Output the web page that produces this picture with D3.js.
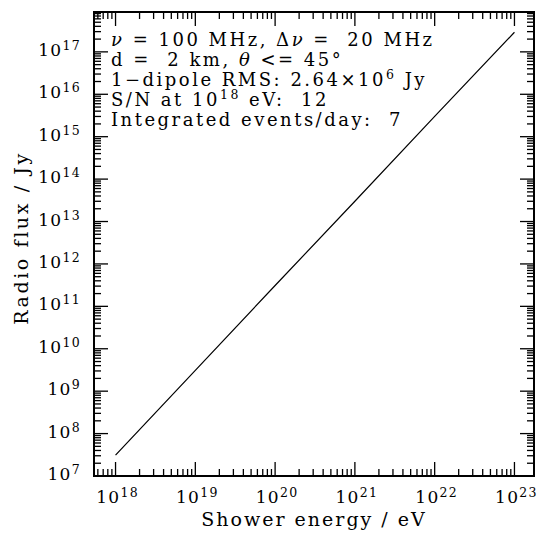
<!DOCTYPE html>
<html>
<head>
<meta charset="utf-8">
<script src="https://cdn.jsdelivr.net/npm/d3@7"></script>
<style>
  body { margin: 0; background: #fff; }
  svg { display: block; }
  text { font-family: "DejaVu Serif", serif; fill: #000; white-space: pre; }
</style>
</head>
<body>
<svg width="539" height="534"></svg>
<script>
// chart.js

// data
const energyDecades = [18, 19, 20, 21, 22, 23];
const fluxDecades = [7, 8, 9, 10, 11, 12, 13, 14, 15, 16, 17];
const energy = [1e18, 1e19, 1e20, 1e21, 1e22, 1e23];
const flux = [3.1e7, 3.1e9, 3.1e11, 3.0e13, 3.0e15, 2.9e17];

// annotation lines: [text, kind]  kind: "" normal, "i" italic, "s" superscript
const notes = [
    [["ν", "i"], [" = 100 MHz, Δ", ""], ["ν", "i"], [" =  20 MHz", ""]],
    [["d =  2 km, ", ""], ["θ", "i"], [" <= 45°", ""]],
    [["1−dipole RMS: 2.64×10", ""], ["6", "s"], [" Jy", ""]],
    [["S/N at 10", ""], ["18", "s"], [" eV:  12", ""]],
    [["Integrated events/day:  7", ""]]
];

const xTitle = "Shower energy / eV";
const yTitle = "Radio flux / Jy";

const svg = d3.select("svg");
const frameL = 94, frameR = 534, frameT = 12, frameB = 476;

const x = d3.scaleLog().domain([Math.pow(10, 17.73), Math.pow(10, 23.245)]).range([frameL, frameR]);
const y = d3.scaleLog().domain([1e7, Math.pow(10, 17.94)]).range([frameB, frameT]);

function minors(scale) {
    const [a, b] = scale.domain();
    const out = [];
    for (let d = Math.floor(Math.log10(a)); d <= Math.ceil(Math.log10(b)); d++) {
        for (let k = 2; k <= 9; k++) {
            const v = k * Math.pow(10, d);
            if (v > a && v < b) out.push(v);
        }
    }
    return out;
}

const xTicks = energyDecades.map(d => ({ v: Math.pow(10, d), len: 14 }))
    .concat(minors(x).map(v => ({ v: v, len: 7 })));
const yTicks = fluxDecades.map(d => ({ v: Math.pow(10, d), len: 14 }))
    .concat(minors(y).map(v => ({ v: v, len: 7 })));

// ticks as thin filled bars, inward on all four sides
const tw = 1.3;
const tickG = svg.append("g").attr("fill", "#000");
tickG.selectAll("rect.xb")
    .data(xTicks)
    .enter().append("rect")
    .attr("class", "xb")
    .attr("x", d => x(d.v) - tw / 2).attr("y", d => frameB - d.len)
    .attr("width", tw).attr("height", d => d.len);
tickG.selectAll("rect.xt")
    .data(xTicks)
    .enter().append("rect")
    .attr("class", "xt")
    .attr("x", d => x(d.v) - tw / 2).attr("y", frameT)
    .attr("width", tw).attr("height", d => d.len);
tickG.selectAll("rect.yl")
    .data(yTicks)
    .enter().append("rect")
    .attr("class", "yl")
    .attr("x", frameL).attr("y", d => y(d.v) - tw / 2)
    .attr("width", d => d.len).attr("height", tw);
tickG.selectAll("rect.yr")
    .data(yTicks)
    .enter().append("rect")
    .attr("class", "yr")
    .attr("x", d => frameR - d.len).attr("y", d => y(d.v) - tw / 2)
    .attr("width", d => d.len).attr("height", tw);

// frame
svg.append("path")
    .attr("d", `M${frameL},${frameT}H${frameR}V${frameB}H${frameL}Z`)
    .attr("fill", "none")
    .attr("stroke", "#000")
    .attr("stroke-width", 2);

// the curve
const pts = energy.map((e, i) => [e, flux[i]]);
svg.append("path")
    .datum(pts)
    .attr("d", d3.line().x(d => x(d[0])).y(d => y(d[1])))
    .attr("fill", "none")
    .attr("stroke", "#000")
    .attr("stroke-width", 1.2);

// power-of-ten labels
function powLabel(sel, exp) {
    sel.append("tspan").text("10");
    sel.append("tspan")
        .attr("dy", -6)
        .attr("font-size", 12.5)
        .text(exp);
}

svg.append("g").selectAll("text")
    .data(energyDecades)
    .enter().append("text")
    .attr("x", d => x(Math.pow(10, d)) + 2)
    .attr("y", 503)
    .attr("text-anchor", "middle")
    .attr("font-size", 17)
    .attr("letter-spacing", 1.3)
    .each(function(d) { powLabel(d3.select(this), d); });

svg.append("g").selectAll("text")
    .data(fluxDecades)
    .enter().append("text")
    .attr("x", 81)
    .attr("y", d => y(Math.pow(10, d)) + 4)
    .attr("text-anchor", "end")
    .attr("font-size", 17)
    .attr("letter-spacing", 1.3)
    .each(function(d) { powLabel(d3.select(this), d); });

// axis titles
svg.append("text")
    .attr("x", 314)
    .attr("y", 526)
    .attr("text-anchor", "middle")
    .attr("font-size", 19)
    .attr("letter-spacing", 2)
    .text(xTitle);

svg.append("text")
    .attr("transform", "translate(28,238) rotate(-90)")
    .attr("text-anchor", "middle")
    .attr("font-size", 19)
    .attr("letter-spacing", 2.6)
    .text(yTitle);

// annotation block
notes.forEach((line, i) => {
    const t = svg.append("text")
        .attr("x", 111)
        .attr("y", 46 + i * 19.9)
        .attr("font-size", 18)
        .attr("letter-spacing", 2.5);
    let raised = false;
    line.forEach(([s, kind]) => {
        const sp = t.append("tspan").text(s);
        if (kind === "i") sp.attr("font-style", "italic");
        if (kind === "s") {
            sp.attr("font-size", 12.5).attr("dy", -7);
            raised = true;
        } else if (raised) {
            sp.attr("dy", 7);
            raised = false;
        }
    });
});
</script>
</body>
</html>
